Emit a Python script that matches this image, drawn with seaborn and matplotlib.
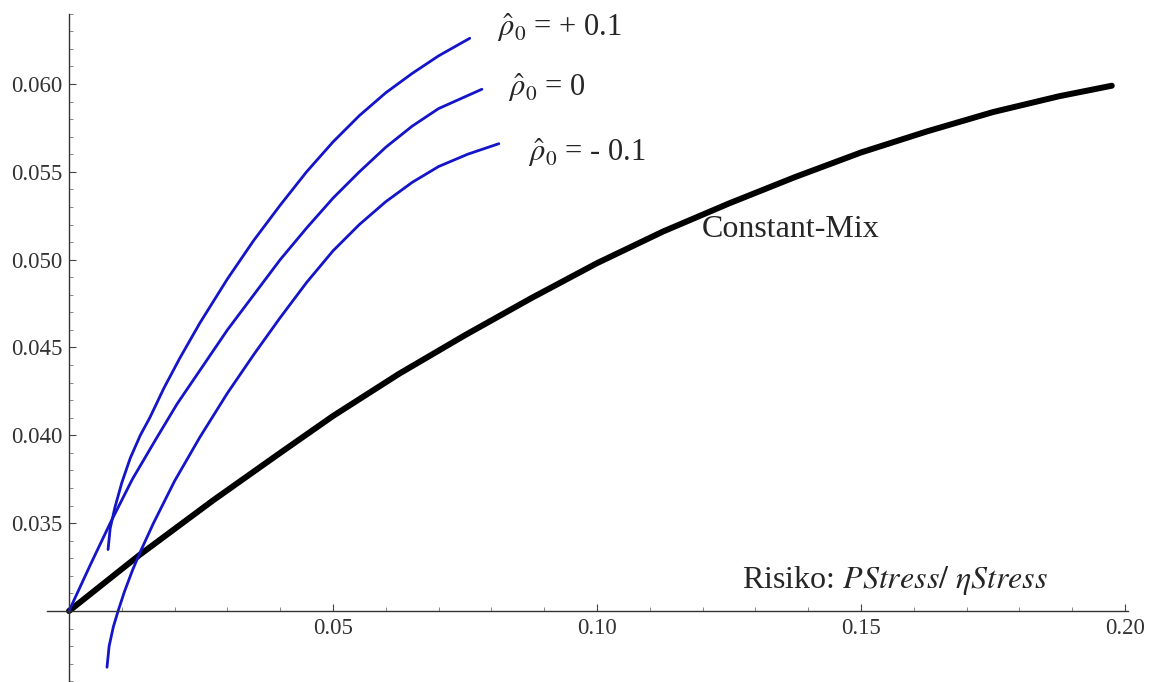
#Grafico Constant-Mix vs. Risiko (PStress / eta Stress)
import numpy as np
import pandas as pd
import matplotlib
matplotlib.use("Agg")
import matplotlib.pyplot as plt
import seaborn as sns

#datos
x_cm = [0.0, 0.0134, 0.0273, 0.04, 0.05, 0.0625, 0.075, 0.0875, 0.10, 0.1125,
        0.125, 0.1375, 0.15, 0.1625, 0.175, 0.1875, 0.1975]
y_cm = [0.0300, 0.0332, 0.0363, 0.0390, 0.0411, 0.0435, 0.0457, 0.0478, 0.0498, 0.0516,
        0.0532, 0.0547, 0.0561, 0.0573, 0.0584, 0.0593, 0.0599]

x_pos = [0.0074, 0.0078, 0.0087, 0.0100, 0.0116, 0.0135, 0.0153, 0.0180, 0.0210, 0.0248,
         0.030, 0.035, 0.040, 0.045, 0.050, 0.055, 0.060, 0.065, 0.070, 0.0759]
y_pos = [0.0335, 0.0347, 0.0359, 0.0373, 0.0387, 0.0400, 0.0410, 0.0427, 0.0444, 0.0464,
         0.0489, 0.0511, 0.0531, 0.0550, 0.0567, 0.0582, 0.0595, 0.0606, 0.0616, 0.0626]

x_null = [0.0, 0.004, 0.0078, 0.012, 0.0165, 0.0205, 0.0248, 0.030, 0.035, 0.040,
          0.045, 0.050, 0.055, 0.060, 0.065, 0.070, 0.0782]
y_null = [0.0300, 0.0326, 0.0350, 0.0375, 0.0398, 0.0418, 0.0437, 0.0460, 0.0480, 0.0500,
          0.0518, 0.0535, 0.0550, 0.0564, 0.0576, 0.0586, 0.0597]

x_neg = [0.0072, 0.0076, 0.0084, 0.0093, 0.0105, 0.0120, 0.0134, 0.0160, 0.0200, 0.0248,
         0.030, 0.035, 0.040, 0.045, 0.050, 0.055, 0.060, 0.065, 0.070, 0.0755, 0.0814]
y_neg = [0.0268, 0.0280, 0.0291, 0.0300, 0.0311, 0.0323, 0.0333, 0.0350, 0.0374, 0.0399,
         0.0424, 0.0446, 0.0467, 0.0487, 0.0505, 0.0520, 0.0533, 0.0544, 0.0553, 0.0560, 0.0566]

x_major = [0.05, 0.10, 0.15, 0.20]
x_labels = ["0.05", "0.10", "0.15", "0.20"]
y_major = [0.035, 0.040, 0.045, 0.050, 0.055, 0.060]
y_labels = ["0.035", "0.040", "0.045", "0.050", "0.055", "0.060"]

sns.set_style("white")
plt.rcParams['font.family'] = ['Liberation Serif', 'DejaVu Serif']
plt.rcParams['mathtext.fontset'] = 'stix'

fig = plt.figure(figsize=(11.55, 6.82), dpi=100)
ax = fig.add_axes([40/1155, 0, 1095/1155, 672/682])

azul = "#1414c8"
sns.lineplot(x=x_cm, y=y_cm, sort=False, estimator=None, color="black", linewidth=4.3, ax=ax)
sns.lineplot(x=x_pos, y=y_pos, sort=False, estimator=None, color=azul, linewidth=2.0, ax=ax)
sns.lineplot(x=x_null, y=y_null, sort=False, estimator=None, color=azul, linewidth=2.0, ax=ax)
sns.lineplot(x=x_neg, y=y_neg, sort=False, estimator=None, color=azul, linewidth=2.0, ax=ax)

ax.set_xlim(-0.00549, 0.20189)
ax.set_ylim(0.02596, 0.06421)

#ejes estilo Mathematica
ax.spines['top'].set_visible(False)
ax.spines['right'].set_visible(False)
ax.spines['left'].set_position(('data', 0.0))
ax.spines['bottom'].set_position(('data', 0.030))
ax.spines['left'].set_bounds(0.02596, 0.0640)
ax.spines['bottom'].set_bounds(-0.0042, 0.2005)
for s in ['left', 'bottom']:
    ax.spines[s].set_color('#333333')
    ax.spines[s].set_linewidth(1.0)

ax.set_xticks(x_major)
ax.set_xticklabels(x_labels)
ax.set_yticks(y_major)
ax.set_yticklabels(y_labels)
xm = [v for v in np.round(np.arange(0.01, 0.201, 0.01), 3) if round(v * 100) % 5 != 0]
ym = [v for v in np.round(np.arange(0.026, 0.0645, 0.001), 3) if round(v * 1000) % 5 != 0]
ax.set_xticks(xm, minor=True)
ax.set_yticks(ym, minor=True)
ax.tick_params(which='both', left=True, bottom=True)
ax.tick_params(which='major', direction='in', length=5, width=0.8, color='#444444',
               labelsize=16.5, labelcolor='#333333')
ax.tick_params(which='minor', direction='in', length=3, width=0.6, color='#777777')
ax.tick_params(axis='x', pad=5)
ax.tick_params(axis='y', pad=5)
ax.set_xlabel("")
ax.set_ylabel("")

#textos
ax.text(0.0811, 0.0632, r"$\hat{\rho}_0$ = + 0.1", fontsize=22, va='center', ha='left')
ax.text(0.0831, 0.0598, r"$\hat{\rho}_0$ = 0", fontsize=22, va='center', ha='left')
ax.text(0.0869, 0.0561, r"$\hat{\rho}_0$ = - 0.1", fontsize=22, va='center', ha='left')
ax.text(0.1199, 0.0517, "Constant-Mix", fontsize=23, va='center', ha='left')
ax.text(0.1275, 0.03176, r"Risiko: $PStress/\ \eta Stress$", fontsize=23, va='center', ha='left')

fig.savefig("out.png", dpi=100)
